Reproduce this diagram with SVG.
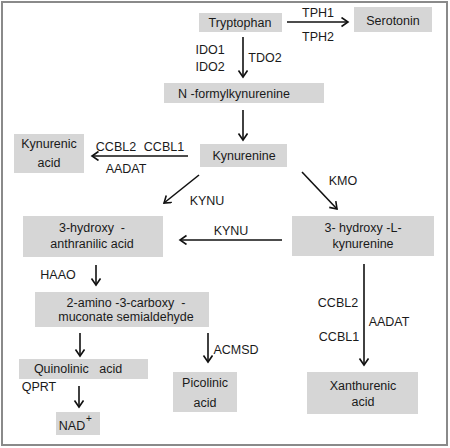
<svg xmlns="http://www.w3.org/2000/svg" width="450" height="448" viewBox="0 0 450 448">
<style>
text{font-family:"Liberation Sans",Arial,sans-serif;font-size:12.5px;fill:#1a1a1a;text-anchor:middle;white-space:pre}
.box{fill:#d6d6d6}
.ar{stroke:#111;stroke-width:1.6;fill:none;marker-end:url(#ah)}
</style>
<defs>
<marker id="ah" markerUnits="userSpaceOnUse" markerWidth="12" markerHeight="12" refX="7.5" refY="5" orient="auto">
<path d="M1,0.5 L7.5,5 L1,9.5" fill="none" stroke="#111" stroke-width="1.6"/>
</marker>
</defs>
<rect x="2" y="2" width="445" height="443" fill="#fff" stroke="#8a8a8a" stroke-width="2"/>
<g id="tryptophan"><rect class="box" x="199" y="13" width="83" height="19"/><text x="240" y="27">Tryptophan</text></g>
<g id="serotonin"><rect class="box" x="354" y="7" width="78" height="25"/><text x="393" y="25">Serotonin</text></g>
<g id="nfk"><rect class="box" x="164" y="83" width="160" height="20"/><text x="234" y="98">N -formylkynurenine</text></g>
<g id="kynurenine"><rect class="box" x="200" y="144" width="87" height="23"/><text x="244" y="160">Kynurenine</text></g>
<g id="kynurenic"><rect class="box" x="14" y="134" width="70" height="39"/><text x="49" y="148">Kynurenic</text><text x="49" y="167">acid</text></g>
<g id="haa"><rect class="box" x="23" y="216" width="140" height="41"/><text x="92" y="232">3-hydroxy  -</text><text x="92" y="248">anthranilic acid</text></g>
<g id="hk"><rect class="box" x="292" y="216" width="142" height="40"/><text x="363" y="232">3- hydroxy -L-</text><text x="363" y="248">kynurenine</text></g>
<g id="acms"><rect class="box" x="35" y="292" width="174" height="35"/><text x="126" y="307">2-amino -3-carboxy  -</text><text x="126" y="321">muconate semialdehyde</text></g>
<g id="quinolinic"><rect class="box" x="19" y="359" width="129" height="20"/><text x="78" y="373">Quinolinic   acid</text></g>
<g id="picolinic"><rect class="box" x="173" y="372" width="64" height="40"/><text x="205" y="387">Picolinic</text><text x="205" y="407">acid</text></g>
<g id="xanthurenic"><rect class="box" x="307" y="372" width="111" height="42"/><text x="363" y="390">Xanthurenic</text><text x="363" y="406">acid</text></g>
<g id="nad"><rect class="box" x="56" y="412" width="44" height="23"/><text x="72" y="430">NAD</text><text x="89" y="422" style="font-size:10px">+</text></g>
<g id="connectors">
<line class="ar" x1="287" y1="22" x2="348" y2="22"/>
<line class="ar" x1="243" y1="37" x2="243" y2="77"/>
<line class="ar" x1="243" y1="110" x2="243" y2="140"/>
<line class="ar" x1="188" y1="156" x2="92" y2="156"/>
<line class="ar" x1="199" y1="175" x2="164" y2="203"/>
<line class="ar" x1="302" y1="172" x2="337" y2="209"/>
<line class="ar" x1="282" y1="240" x2="180" y2="240"/>
<line class="ar" x1="96" y1="265" x2="96" y2="285"/>
<line class="ar" x1="364" y1="264" x2="364" y2="365"/>
<line class="ar" x1="80" y1="333" x2="80" y2="356"/>
<line class="ar" x1="208" y1="333" x2="208" y2="362"/>
<line class="ar" x1="79" y1="386" x2="79" y2="407"/>
</g>
<g id="labels">
<text x="318" y="17">TPH1</text>
<text x="318" y="41">TPH2</text>
<text x="210" y="54">IDO1</text>
<text x="210" y="71">IDO2</text>
<text x="265" y="62">TDO2</text>
<text x="116" y="151">CCBL2</text>
<text x="164" y="151">CCBL1</text>
<text x="126" y="173">AADAT</text>
<text x="207" y="205">KYNU</text>
<text x="343" y="185">KMO</text>
<text x="231" y="235">KYNU</text>
<text x="58" y="279">HAAO</text>
<text x="338" y="307">CCBL2</text>
<text x="389" y="326">AADAT</text>
<text x="339" y="341">CCBL1</text>
<text x="236" y="354">ACMSD</text>
<text x="39" y="391">QPRT</text>
</g>
</svg>
